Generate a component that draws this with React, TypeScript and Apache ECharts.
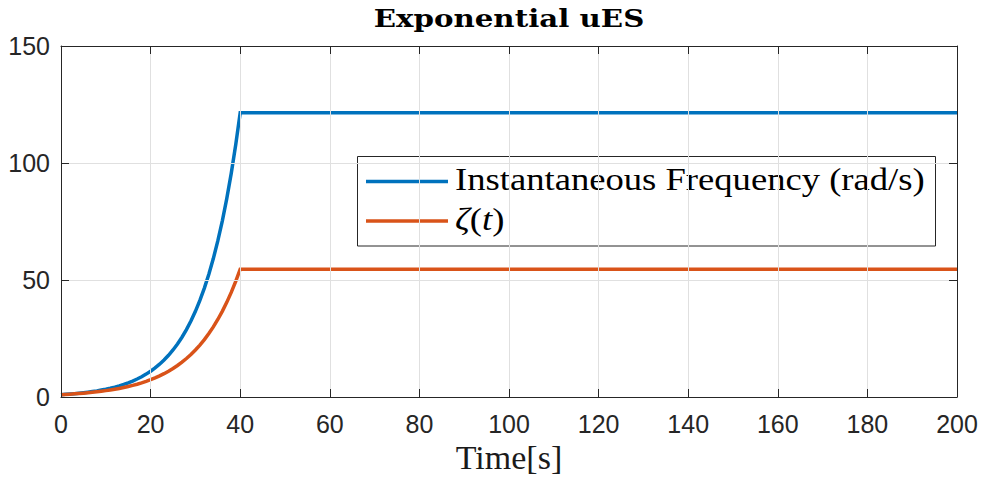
import React, { useEffect, useRef } from "react";
import * as echarts from "echarts";

// Time samples [s]; the ramp ends at 40 s and both signals hold afterwards.
const timeSec = [
  0, 1, 2, 3, 4, 5, 6, 7, 8, 9, 10, 11, 12, 13, 14, 15, 16, 17, 18, 19, 20,
  21, 22, 23, 24, 25, 26, 27, 28, 29, 30, 31, 32, 33, 34, 35, 36, 37, 38, 39, 40, 200,
];

// Instantaneous frequency (rad/s)
const instFreq = [
  1.0, 1.13, 1.27, 1.43, 1.62, 1.82, 2.05, 2.32, 2.61, 2.95, 3.32,
  3.74, 4.22, 4.76, 5.37, 6.05, 6.82, 7.69, 8.67, 9.78, 11.02,
  12.43, 14.01, 15.8, 17.81, 20.09, 22.65, 25.53, 28.79, 32.46, 36.6,
  41.26, 46.53, 52.46, 59.15, 66.69, 75.19, 84.77, 95.58, 107.8, 121.5, 121.5,
];

// zeta(t)
const zeta = [
  1.0, 1.11, 1.22, 1.35, 1.49, 1.65, 1.82, 2.01, 2.23, 2.46, 2.72,
  3.0, 3.32, 3.67, 4.06, 4.48, 4.95, 5.47, 6.05, 6.69, 7.39,
  8.17, 9.03, 9.97, 11.02, 12.18, 13.46, 14.88, 16.44, 18.17, 20.09,
  22.2, 24.53, 27.11, 29.96, 33.12, 36.6, 40.45, 44.7, 49.4, 54.6, 54.6,
];

const seriesNames = ["Instantaneous Frequency (rad/s)", "\u03b6(t)"];
const seriesColors = ["#0072BD", "#D95319"];

const X_MIN = 0;
const X_MAX = 200;
const X_STEP = 20;
const Y_MIN = 0;
const Y_MAX = 150;
const Y_STEP = 50;

const AXIS_COLOR = "#262626";
const GRID_COLOR = "#e0e0e0";
const TICK_FONT = "'Liberation Sans', Helvetica, Arial, sans-serif";
const SERIF = "'Liberation Serif', 'Times New Roman', serif";

export default function App() {
  const ref = useRef<HTMLDivElement>(null);

  useEffect(() => {
    if (!ref.current) return;
    const chart = echarts.init(ref.current, undefined, { renderer: "svg" });

    const pairs = (ys: number[]) => timeSec.map((t, i) => [t, ys[i]]);

    // Box axes on the top and right: line and inward ticks only.
    const boxAxis = {
      z: 5,
      axisLine: { show: true, onZero: false, lineStyle: { color: AXIS_COLOR, width: 1 } },
      axisTick: { show: true, inside: true, length: 8, lineStyle: { color: AXIS_COLOR } },
      axisLabel: { show: false },
      splitLine: { show: false },
    };

    chart.setOption({
      animation: false,
      backgroundColor: "#ffffff",
      grid: { left: 61, right: 25, top: 46, bottom: 85, containLabel: false },
      xAxis: [
        {
          type: "value",
          min: X_MIN,
          max: X_MAX,
          interval: X_STEP,
          z: 5,
          name: "Time[s]",
          nameLocation: "middle",
          nameGap: 42,
          nameTextStyle: { fontFamily: SERIF, fontSize: 34, color: "#1a1a1a" },
          axisLine: { show: true, onZero: false, lineStyle: { color: AXIS_COLOR, width: 1 } },
          axisTick: { show: true, inside: true, length: 8, lineStyle: { color: AXIS_COLOR } },
          axisLabel: { fontFamily: TICK_FONT, fontSize: 25, color: AXIS_COLOR, margin: 14 },
          splitLine: { show: true, lineStyle: { color: GRID_COLOR, width: 1 } },
        },
        {
          type: "value",
          position: "top",
          min: X_MIN,
          max: X_MAX,
          interval: X_STEP,
          ...boxAxis,
        },
      ],
      yAxis: [
        {
          type: "value",
          min: Y_MIN,
          max: Y_MAX,
          interval: Y_STEP,
          z: 5,
          axisLine: { show: true, onZero: false, lineStyle: { color: AXIS_COLOR, width: 1 } },
          axisTick: { show: true, inside: true, length: 8, lineStyle: { color: AXIS_COLOR } },
          axisLabel: { fontFamily: TICK_FONT, fontSize: 25, color: AXIS_COLOR, margin: 11 },
          splitLine: { show: true, lineStyle: { color: GRID_COLOR, width: 1 } },
        },
        {
          type: "value",
          position: "right",
          min: Y_MIN,
          max: Y_MAX,
          interval: Y_STEP,
          ...boxAxis,
        },
      ],
      series: [
        {
          name: seriesNames[0],
          type: "line",
          data: pairs(instFreq),
          showSymbol: false,
          symbol: "none",
          clip: true,
          z: 3,
          lineStyle: { color: seriesColors[0], width: 3.5, join: "miter" },
        },
        {
          name: seriesNames[1],
          type: "line",
          data: pairs(zeta),
          showSymbol: false,
          symbol: "none",
          clip: true,
          z: 3,
          lineStyle: { color: seriesColors[1], width: 3.5, join: "miter" },
        },
      ],
      graphic: [
        {
          type: "text",
          x: 509,
          y: 18,
          scaleX: 1.22,
          style: {
            text: "Exponential uES",
            fontFamily: "'DejaVu Serif', serif",
            fontWeight: "bold",
            fontSize: 24,
            fill: "#000000",
            align: "center",
            verticalAlign: "middle",
          },
        },
        {
          type: "group",
          z: 100,
          children: [
            {
              type: "rect",
              shape: { x: 357.5, y: 156.5, width: 578, height: 89.5 },
              style: { fill: "#ffffff", stroke: AXIS_COLOR, lineWidth: 1 },
            },
            {
              type: "line",
              shape: { x1: 366, y1: 181.5, x2: 448, y2: 181.5 },
              style: { stroke: seriesColors[0], lineWidth: 3.5 },
            },
            {
              type: "line",
              shape: { x1: 366, y1: 221, x2: 448, y2: 221 },
              style: { stroke: seriesColors[1], lineWidth: 3.5 },
            },
            {
              type: "text",
              x: 455,
              y: 178.5,
              scaleX: 1.145,
              style: {
                text: seriesNames[0],
                fontFamily: SERIF,
                fontSize: 32,
                fill: "#000000",
                align: "left",
                verticalAlign: "middle",
              },
            },
            {
              type: "text",
              x: 455,
              y: 219,
              scaleX: 1.145,
              style: {
                text: "{i|\u03b6}({i|t})",
                fontFamily: SERIF,
                fontSize: 32,
                fill: "#000000",
                align: "left",
                verticalAlign: "middle",
                rich: {
                  i: { fontFamily: SERIF, fontSize: 32, fontStyle: "italic", fill: "#000000" },
                },
              },
            },
          ],
        },
      ],
    });

    return () => chart.dispose();
  }, []);

  return (
    <div
      ref={ref}
      style={{ position: "absolute", left: 0, top: 0, width: 982, height: 482 }}
    />
  );
}
